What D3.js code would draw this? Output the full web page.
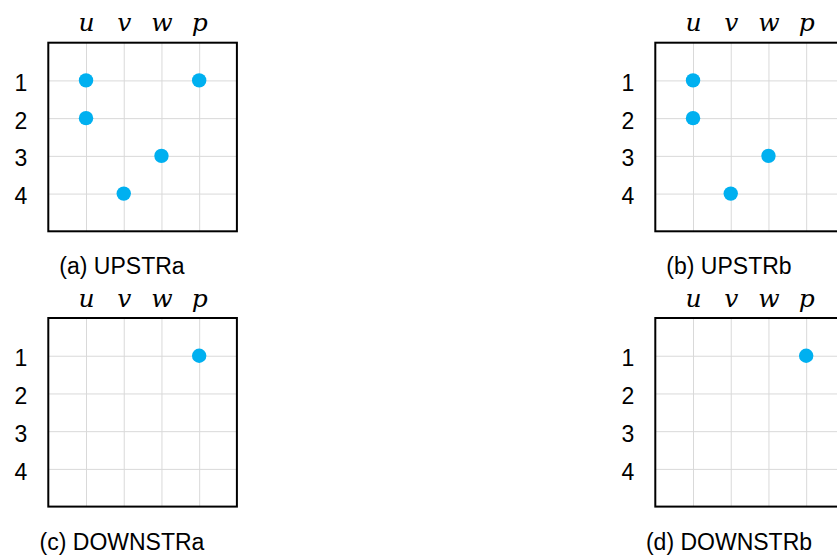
<!DOCTYPE html>
<html>
<head>
<meta charset="utf-8">
<script src="https://cdn.jsdelivr.net/npm/d3@7"></script>
<style>
  html, body { margin: 0; padding: 0; background: #fff; }
  svg { display: block; }
</style>
</head>
<body>
<svg id="chart" width="837" height="555"></svg>
<script>
// Variables (columns) and equation rows of each occupancy matrix
const columns = ["u", "v", "w", "p"];
const rows = [1, 2, 3, 4];

// Non-zero entries of each matrix, as [column, row]
const upstrA = [["u", 1], ["p", 1], ["u", 2], ["w", 3], ["v", 4]];
const upstrB = [["u", 1], ["u", 2], ["w", 3], ["v", 4]];
const downstrA = [["p", 1]];
const downstrB = [["p", 1]];

const panelTitles = ["(a) UPSTRa", "(b) UPSTRb", "(c) DOWNSTRa", "(d) DOWNSTRb"];
const panelEntries = [upstrA, upstrB, downstrA, downstrB];

// Layout of the 2 x 2 grid of panels
const boxSize = 188.6;
const lefts = [48.3, 655.3];
const tops = [42.7, 318];
const dotColor = "#00B0F0";

const svg = d3.select("#chart");

panelEntries.forEach((entries, i) => {
  const left = lefts[i % 2];
  const top = tops[Math.floor(i / 2)];

  const x = d3.scalePoint().domain(columns).range([0, boxSize]).padding(1);
  const y = d3.scalePoint().domain(rows).range([0, boxSize]).padding(1);

  const g = svg.append("g").attr("transform", `translate(${left},${top})`);

  // Column gridlines and italic variable names
  const xAxis = g.append("g")
    .call(d3.axisTop(x).tickSize(-boxSize).tickPadding(11.5));
  xAxis.select(".domain").remove();
  xAxis.selectAll(".tick line").attr("stroke", "#d9d9d9").attr("stroke-width", 1);
  xAxis.selectAll(".tick text")
    .attr("fill", "#000")
    .style("font-family", "'DejaVu Serif', serif")
    .style("font-style", "italic")
    .style("font-size", "25px");

  // Row gridlines and row numbers
  const yAxis = g.append("g")
    .call(d3.axisLeft(y).tickSize(-boxSize).tickPadding(27.3));
  yAxis.select(".domain").remove();
  yAxis.selectAll(".tick line").attr("stroke", "#d9d9d9").attr("stroke-width", 1);
  yAxis.selectAll(".tick text")
    .attr("fill", "#000")
    .attr("text-anchor", "middle")
    .attr("dy", "0.44em")
    .style("font-family", "'Liberation Sans', Arial, sans-serif")
    .style("font-size", "23px");

  // Frame
  g.append("rect")
    .attr("x", 0).attr("y", 0)
    .attr("width", boxSize).attr("height", boxSize)
    .attr("fill", "none")
    .attr("stroke", "#000")
    .attr("stroke-width", 2);

  // Non-zero markers
  g.selectAll("circle.entry")
    .data(entries)
    .join("circle")
    .attr("class", "entry")
    .attr("cx", d => x(d[0]))
    .attr("cy", d => y(d[1]))
    .attr("r", 7.2)
    .attr("fill", dotColor);

  // Panel caption
  g.append("text")
    .attr("x", 73.7)
    .attr("y", boxSize + 43)
    .attr("text-anchor", "middle")
    .attr("fill", "#000")
    .style("font-family", "'Liberation Sans', Arial, sans-serif")
    .style("font-size", "23px")
    .text(panelTitles[i]);
});
</script>
</body>
</html>
